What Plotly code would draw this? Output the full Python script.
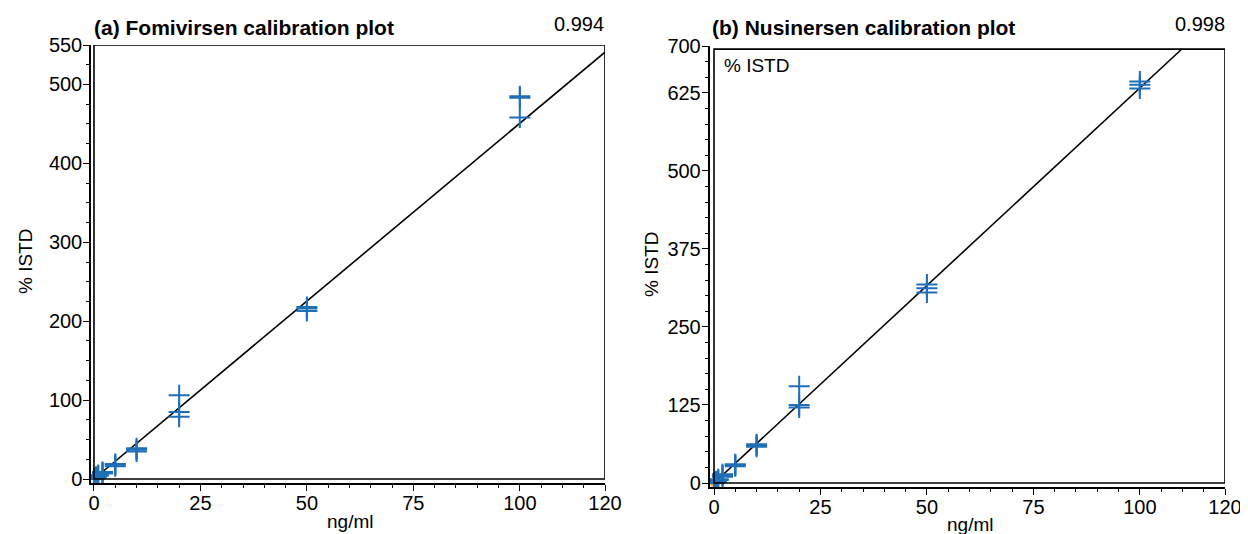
import plotly.graph_objects as go

# ---------------- data ----------------
# (a) Fomivirsen
a_x = [0, 0, 0.5, 0.5, 1, 1, 2, 2, 2, 5, 5, 5, 10, 10, 10, 20, 20, 20, 50, 50, 50, 100, 100, 100]
a_y = [0, 1, 2, 3, 4, 5, 7, 8, 9, 16, 18, 19, 35, 37, 39, 79, 85, 106, 213, 216, 218, 458, 483, 485]
a_fit_x = [0, 120]
a_fit_y = [0, 541]
a_r = "0.994"

# (b) Nusinersen
b_x = [0, 0, 0.5, 0.5, 1, 1, 2, 2, 2, 5, 5, 5, 10, 10, 10, 20, 20, 20, 50, 50, 50, 100, 100, 100]
b_y = [0, 1, 2, 3, 5, 6, 10, 12, 14, 27, 29, 30, 58, 60, 62, 121, 125, 155, 305, 312, 318, 632, 638, 643]
b_fit_x = [0, 110]
b_fit_y = [0, 696]
b_r = "0.998"
b_origin_x = [0]
b_origin_y = [0]

x_ticks = [0, 25, 50, 75, 100, 120]
x_minor = [v for v in range(5, 120, 5) if v not in x_ticks]
a_y_ticks = [0, 100, 200, 300, 400, 500, 550]
a_y_minor = [v for v in range(25, 550, 25) if v not in a_y_ticks]
b_y_ticks = [0, 125, 250, 375, 500, 625, 700]
b_y_minor = [v for v in range(25, 700, 25) if v not in b_y_ticks]

# page body has an 8px margin: size the figure so it fills the 1248x534 window
OFF = 8
W, H = 1248 - OFF, 534 - OFF
FONT = "Liberation Sans, Arial, Helvetica, sans-serif"
BLUE = "#1f6fb8"

def px(x):
    return (x - OFF) / W

def py(y):
    return 1 - (y - OFF) / H

fig = go.Figure()

marker = dict(symbol="cross-thin", size=15, line=dict(color=BLUE, width=2), color=BLUE)

fig.add_trace(go.Scatter(x=a_fit_x, y=a_fit_y, mode="lines", line=dict(color="black", width=1.6),
                         xaxis="x", yaxis="y", showlegend=False, hoverinfo="skip"))
fig.add_trace(go.Scatter(x=a_x, y=a_y, mode="markers", marker=marker,
                         xaxis="x", yaxis="y", showlegend=False))
fig.add_trace(go.Scatter(x=b_fit_x, y=b_fit_y, mode="lines", line=dict(color="black", width=1.6),
                         xaxis="x2", yaxis="y2", showlegend=False, hoverinfo="skip"))
fig.add_trace(go.Scatter(x=b_origin_x, y=b_origin_y, mode="markers",
                         marker=dict(symbol="circle", size=8, color="#f2b12a"),
                         xaxis="x2", yaxis="y2", showlegend=False))
fig.add_trace(go.Scatter(x=b_x, y=b_y, mode="markers", marker=marker,
                         xaxis="x2", yaxis="y2", showlegend=False))

def axis_common():
    return dict(showline=True, linecolor="black", linewidth=1.5, ticks="outside",
                ticklen=6, tickwidth=1.3, tickcolor="black", showgrid=False, zeroline=False,
                automargin=False,
                tickfont=dict(family=FONT, size=20, color="black"))

def minor(vals):
    return dict(tickmode="array", tickvals=vals, ticks="outside", ticklen=3,
                tickwidth=1.2, tickcolor="black", showgrid=False)

xa = axis_common()
xa.update(domain=[px(91), px(605)], range=[-0.70, 120], anchor="y", tickmode="array",
          tickvals=x_ticks, ticktext=[str(v) for v in x_ticks], minor=minor(x_minor),
          ticklabelstandoff=-5)
ya = axis_common()
ya.update(domain=[py(483), py(45)], range=[-5.07, 550], anchor="x", tickmode="array",
          tickvals=a_y_ticks, ticktext=[str(v) for v in a_y_ticks], minor=minor(a_y_minor),
          ticklabelstandoff=-3)
xb = axis_common()
xb.update(domain=[px(709.5), px(1225)], range=[-1.06, 120], anchor="y2", tickmode="array",
          tickvals=x_ticks, ticktext=[str(v) for v in x_ticks], minor=minor(x_minor),
          ticklabelstandoff=-5)
yb = axis_common()
yb.update(domain=[py(487), py(46)], range=[-6.4, 700], anchor="x2", tickmode="array",
          tickvals=b_y_ticks, ticktext=[str(v) for v in b_y_ticks], minor=minor(b_y_minor),
          ticklabelstandoff=-3)

shapes = [
    dict(type="rect", xref="x", yref="y", x0=0, x1=120, y0=0, y1=550,
         line=dict(color="black", width=1.6), fillcolor="rgba(0,0,0,0)", layer="above"),
    dict(type="rect", xref="x2", yref="y2", x0=0, x1=120, y0=0, y1=695,
         line=dict(color="black", width=1.6), fillcolor="rgba(0,0,0,0)", layer="above"),
]

def ann(text, x, y, xanchor="left", size=18, bold=False, angle=0):
    return dict(text=f"<b>{text}</b>" if bold else text, x=px(x), y=py(y), xref="paper", yref="paper",
                xanchor=xanchor, yanchor="middle", showarrow=False, textangle=angle,
                font=dict(family=FONT, size=size, color="black"))

annotations = [
    ann("(a) Fomivirsen calibration plot", 92, 27, bold=True, size=21),
    ann(a_r, 606, 24, xanchor="right", size=20),
    ann("(b) Nusinersen calibration plot", 710, 27, bold=True, size=21),
    ann(b_r, 1227, 24, xanchor="right", size=20),
    ann("% ISTD", 25, 262, xanchor="center", angle=-90, size=19),
    ann("% ISTD", 651, 265, xanchor="center", angle=-90, size=19),
    ann("ng/ml", 350, 521, xanchor="center", size=19),
    ann("ng/ml", 970, 524, xanchor="center", size=19),
    ann("% ISTD", 722, 66, xanchor="left", size=19),
]

fig.update_layout(template="none", width=W, height=H, margin=dict(l=0, r=0, t=0, b=0, pad=0),
                  paper_bgcolor="white", plot_bgcolor="white",
                  xaxis=xa, yaxis=ya, xaxis2=xb, yaxis2=yb,
                  shapes=shapes, annotations=annotations)

fig.write_html("out.html")
